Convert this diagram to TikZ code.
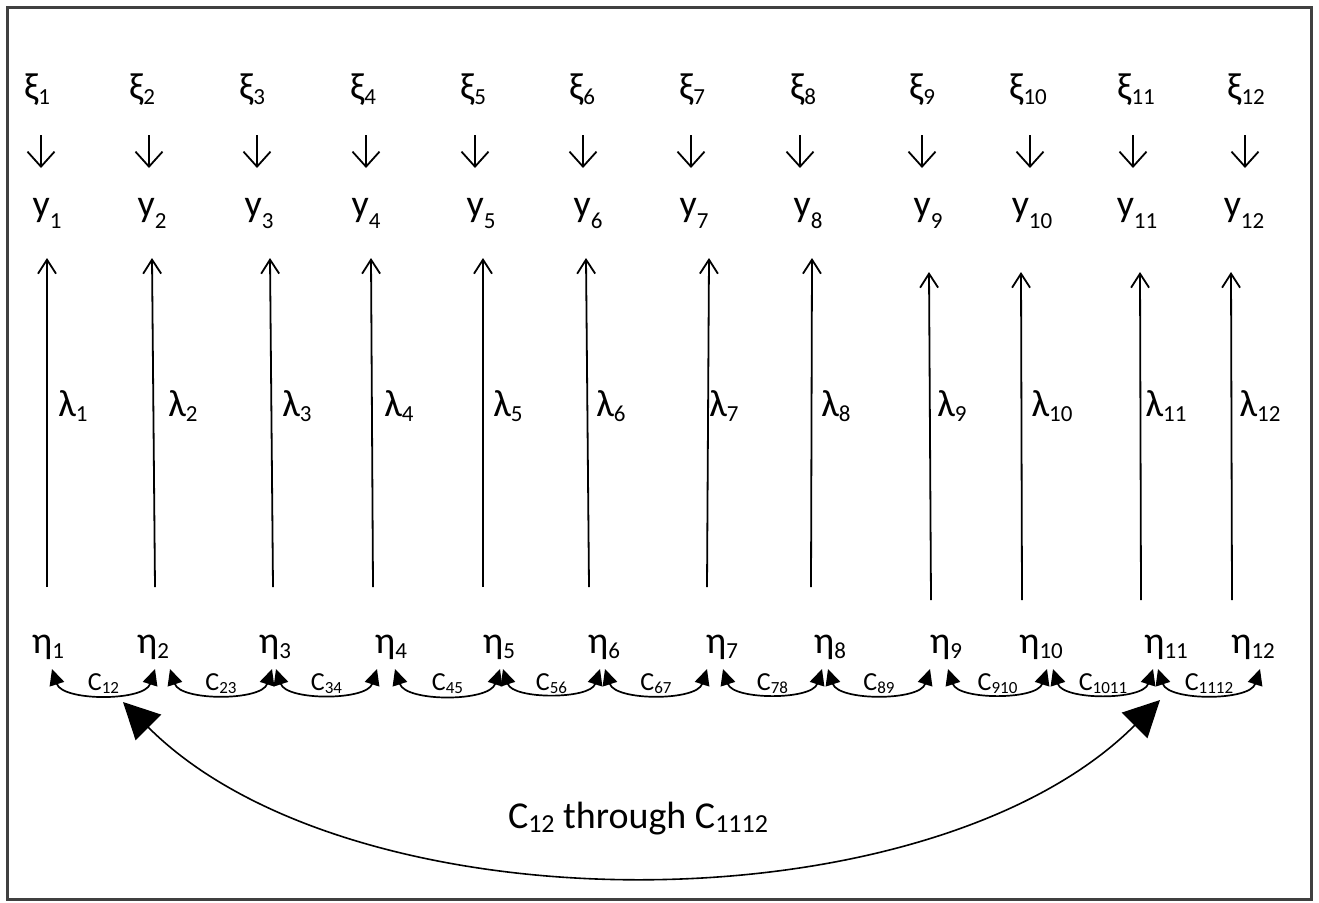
\documentclass[tikz,border=0pt]{standalone}
\usepackage{fontspec}
\setmainfont{Carlito}
\usetikzlibrary{arrows.meta}

% lowered subscript: #1 = drop in pt, #2 = size in pt, #3 = text
\newcommand{\lowsub}[3]{\raisebox{-#1pt}{\fontsize{#2}{#2}\selectfont #3}}

\begin{document}
\begin{tikzpicture}[x=1pt,y=-1pt,
  every node/.style={inner sep=0pt, outer sep=0pt},
  sym/.style={font=\fontsize{38}{44}\selectfont, anchor=base},
  clab/.style={font=\fontsize{26}{30}\selectfont, anchor=base},
  frame/.style={draw=black!75, line width=2.2pt},
  err/.style={line width=1.8pt, -{Straight Barb[length=15pt,width=27pt,line width=1.8pt]}},
  load/.style={line width=1.8pt, -{Straight Barb[length=14pt,width=18pt,line width=1.8pt]}},
  cov/.style={line width=1.7pt, {Triangle[length=16pt,width=15pt]}-{Triangle[length=16pt,width=15pt]}},
  bigcov/.style={line width=1.6pt, {Triangle[length=36pt,width=36pt]}-{Triangle[length=36pt,width=36pt]}}
]
\useasboundingbox (0,0) rectangle (1319,902);
\draw[frame] (7.5,7.5) rectangle (1311.5,899.5);

% error terms xi
\foreach \i/\x in {1/37,2/142,3/252,4/363,5/473,6/582,7/692,8/803,9/922,10/1028,11/1136,12/1246}
  \node[sym] (xi\i) at (\x,99) {ξ\lowsub{5}{23}{\i}};

% indicators y
\foreach \i/\x in {1/47,2/152,3/259,4/366,5/481,6/588,7/694,8/808,9/928,10/1032,11/1137,12/1244}
  \node[sym] (y\i) at (\x,216) {y\lowsub{12}{23}{\i}};

% error arrows xi -> y
\foreach \i/\x in {1/41,2/149,3/257,4/366,5/475,6/583,7/691,8/800,9/922,10/1030,11/1133,12/1245}{
  \coordinate (et\i) at (\x,135);
  \coordinate (eb\i) at (\x,168);
  \draw[err] (et\i) -- (eb\i);
}

% loadings lambda
\foreach \i/\x in {1/73,2/183,3/297,4/399,5/508,6/611,7/724,8/836,9/952,10/1052,11/1166,12/1260}
  \node[sym] (lam\i) at (\x,416) {λ\lowsub{5}{23}{\i}};

% latent states eta
\foreach \i/\x in {1/48,2/153,3/275,4/391,5/499,6/604,7/722,8/830,9/946,10/1041,11/1166,12/1253}
  \node[sym] (eta\i) at (\x,653) {η\lowsub{5}{23}{\i}};

% loading arrows eta -> y
\foreach \i/\xb/\xt/\yb/\yt in {1/47/47/587/258,2/155/152/587/258,3/273/270/587/258,
    4/373/371/587/258,5/483/483/587/258,6/589/586/587/258,7/707/709/587/258,
    8/811/812/587/258,9/931/929/600/272,10/1022/1021/600/272,11/1141/1140/600/272,
    12/1232/1231/600/272}{
  \coordinate (lb\i) at (\xb,\yb);
  \coordinate (lt\i) at (\xt,\yt);
  \draw[load] (lb\i) -- (lt\i);
}

% covariances between neighbouring states
\foreach \n/\a/\b/\s in {12/52/155/12,23/170/272/23,34/276/377/34,45/395/500/45,
    56/503/600/56,67/605/707/67,78/723/822/78,89/828/930/89,910/948/1047/910,
    1011/1053/1153/1011,1112/1158/1260/1112}{
  \coordinate (ca\n) at (\a,669);
  \coordinate (cb\n) at (\b,669);
  \draw[cov] (ca\n) to[out=-72,in=-108,looseness=0.85] (cb\n);
  \node[clab] (cl\n) at ({(\a+\b)/2},690) {C\lowsub{3}{17}{\s}};
}

% covariance block from C12 to C1112
\coordinate (bigL) at (123,702);
\coordinate (bigR) at (1160,700);
\coordinate (bigLc) at (353,932);
\coordinate (bigRc) at (930,930);
\draw[bigcov] (bigL) .. controls (bigLc) and (bigRc) .. (bigR);
\node[font=\fontsize{38}{42}\selectfont, anchor=base] (biglab) at (638,828)
  {C\lowsub{4}{26}{12} through C\lowsub{4}{26}{1112}};
\end{tikzpicture}
\end{document}
